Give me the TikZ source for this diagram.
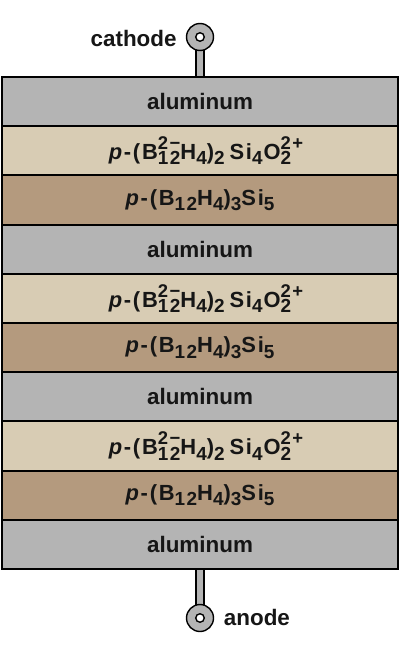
\documentclass[tikz,border=0pt]{standalone}
\usepackage{fontspec}
\setmainfont{Liberation Sans}
\definecolor{algray}{HTML}{B4B4B4}
\definecolor{beige}{HTML}{D8CCB4}
\definecolor{brownl}{HTML}{B49A7E}
\definecolor{txt}{HTML}{161616}
\newlength\lbA
\newlength\lbB
\newcommand{\lsub}[1]{\raisebox{-5.4bp}{\fontsize{19}{19}\selectfont #1}}
\newcommand{\lsup}[1]{\raisebox{10bp}{\fontsize{18.5}{19}\selectfont #1}}
\newcommand{\lboth}[2]{\settowidth\lbA{\lsup{#1}}\settowidth\lbB{\lsub{#2}}\makebox[0pt][l]{\lsup{#1}}\lsub{#2}\ifdim\lbA>\lbB\hspace{\dimexpr\lbA-\lbB\relax}\fi}
\newcommand{\oxform}{\fontsize{22}{24}\selectfont\addfontfeature{LetterSpace=8}\textit{p}-(B\lboth{2−}{12}H\lsub{4})\lsub{2}\hspace{5bp}Si\lsub{4}\hspace{1bp}O\lboth{2+}{2}}
\newcommand{\siform}{\fontsize{22}{24}\selectfont\addfontfeature{LetterSpace=8}\textit{p}-(B\lsub{12}H\lsub{4})\lsub{3}Si\lsub{5}}
\begin{document}
\begin{tikzpicture}[x=1bp,y=-1bp,
  layer/.style={draw=black, line width=2bp, minimum width=396bp, minimum height=49.2bp,
    inner sep=0pt, text=txt, font=\bfseries\fontsize{22.5}{24}\selectfont},
  al/.style={layer, fill=algray},
  ox/.style={layer, fill=beige},
  si/.style={layer, fill=brownl},
  term/.style={circle, draw=black, line width=1.4bp, fill=algray, minimum size=27bp, inner sep=0pt},
  hole/.style={circle, draw=black, line width=1.4bp, fill=white, minimum size=8.5bp, inner sep=0pt},
  stem/.style={draw=black, line width=1.2bp, fill=algray},
  lbl/.style={text=txt, font=\bfseries\fontsize{22.5}{24}\selectfont, inner sep=0pt}
]
\useasboundingbox (0,0) rectangle (400,660);
% terminals (stems first)
\coordinate (ctop) at (200,37);
\coordinate (abot) at (200,618);
\path[stem] (196,37) rectangle (204,78);
\path[stem] (196,568) rectangle (204,618);
% layers
\node[al] (l1) at (200,101.6) {aluminum};
\node[ox] (l2) at (200,150.8) {\oxform};
\node[si] (l3) at (200,200.0) {\siform};
\node[al] (l4) at (200,249.2) {aluminum};
\node[ox] (l5) at (200,298.4) {\oxform};
\node[si] (l6) at (200,347.6) {\siform};
\node[al] (l7) at (200,396.8) {aluminum};
\node[ox] (l8) at (200,446.0) {\oxform};
\node[si] (l9) at (200,495.2) {\siform};
\node[al] (l10) at (200,544.4) {aluminum};
% terminal heads
\node[term] (cat) at (ctop) {};
\node[hole] (cathole) at (cat) {};
\node[term] (ano) at (abot) {};
\node[hole] (anohole) at (ano) {};
\node[lbl, anchor=east] (catlbl) at ([xshift=-9bp,yshift=-1bp]cat.west) {cathode};
\node[lbl, anchor=west] (anolbl) at ([xshift=9.5bp,yshift=1bp]ano.east) {anode};
\end{tikzpicture}
\end{document}
